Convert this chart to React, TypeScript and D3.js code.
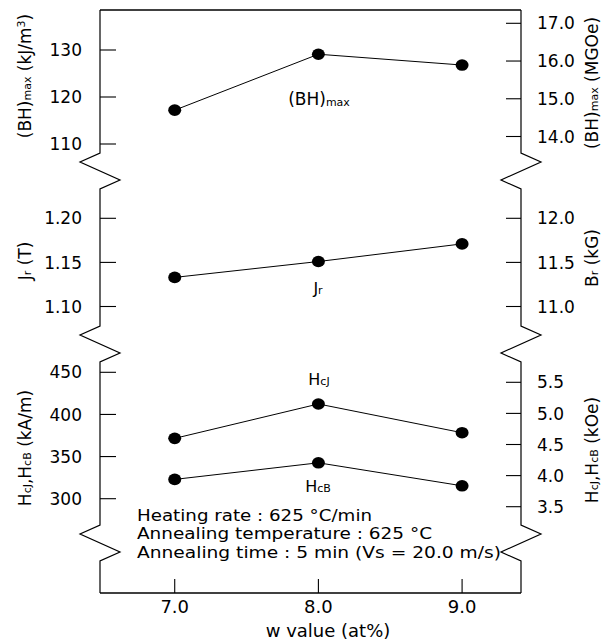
import React from "react";
import * as d3 from "d3";

// ---- data ----
const wValues = [7.0, 8.0, 9.0];
const bhMax = [117.2, 129.1, 126.8]; // kJ/m3
const jr = [1.133, 1.151, 1.171]; // T
const hcj = [371.6, 412.4, 378.3]; // kA/m
const hcb = [322.9, 342.6, 315.3]; // kA/m

const xTicks = [7.0, 8.0, 9.0];
const bhLeftTicks = [110, 120, 130];
const bhRightTicks = [14.0, 15.0, 16.0, 17.0];
const jrLeftTicks = [1.1, 1.15, 1.2];
const brRightTicks = [11.0, 11.5, 12.0];
const hLeftTicks = [300, 350, 400, 450];
const hRightTicks = [3.5, 4.0, 4.5, 5.0, 5.5];

const annotations = [
  "Heating rate : 625 °C/min",
  "Annealing temperature : 625 °C",
  "Annealing time : 5 min (Vs = 20.0 m/s)",
];
const annotationWidths = [235, 295, 364];

// ---- layout ----
const W = 603;
const H = 640;
const xL = 100;
const xR = 521;
const yTop = 10;
const yBot = 593;
const breaks = [153, 326, 525];
const FONT = "DejaVu Sans";

const x = d3.scaleLinear().domain([6.48, 9.41]).range([xL, xR]);

const yBH = d3.scaleLinear().domain([110, 130]).range([144, 50]);
const yBHr = d3.scaleLinear().domain([14, 17]).range([136.5, 23.3]);
const yJ = d3.scaleLinear().domain([1.1, 1.2]).range([306.5, 218.3]);
const yBr = d3.scaleLinear().domain([11, 12]).range([306.5, 218.3]);
const yH = d3.scaleLinear().domain([300, 450]).range([498.7, 372.3]);
const yHr = d3.scaleLinear().domain([3.5, 5.5]).range([506.7, 382.3]);

const leftAxes = [
  { scale: yBH, ticks: bhLeftTicks, fmt: d3.format("d") },
  { scale: yJ, ticks: jrLeftTicks, fmt: d3.format(".2f") },
  { scale: yH, ticks: hLeftTicks, fmt: d3.format("d") },
];
const rightAxes = [
  { scale: yBHr, ticks: bhRightTicks, fmt: d3.format(".1f") },
  { scale: yBr, ticks: brRightTicks, fmt: d3.format(".1f") },
  { scale: yHr, ticks: hRightTicks, fmt: d3.format(".1f") },
];

const series = [
  { values: bhMax, scale: yBH },
  { values: jr, scale: yJ },
  { values: hcj, scale: yH },
  { values: hcb, scale: yH },
];

function axisPath(ax: number, dir: number) {
  const p = d3.path();
  p.moveTo(ax, yTop);
  breaks.forEach((b) => {
    p.lineTo(ax, b);
    p.lineTo(ax + dir * 20, b + 9);
    p.lineTo(ax - dir * 20, b + 27);
    p.lineTo(ax, b + 36);
  });
  p.lineTo(ax, yBot);
  return p.toString();
}

export default function App() {
  const line = d3.line<number>().x((_, i) => x(wValues[i]));

  return (
    <svg
      width={W}
      height={H}
      viewBox={`0 0 ${W} ${H}`}
      style={{ position: "absolute", left: 0, top: 0, background: "#fff" }}
      fontFamily={FONT}
    >
      <rect x={0} y={0} width={W} height={H} fill="#fff" />
      {/* frame */}
      <line x1={xL} x2={xR} y1={yTop} y2={yTop} stroke="#000" strokeWidth={1.3} />
      <line x1={xL} x2={xR} y1={yBot} y2={yBot} stroke="#000" strokeWidth={1.3} />
      <path d={axisPath(xL, -1)} fill="none" stroke="#000" strokeWidth={1.2} />
      <path d={axisPath(xR, 1)} fill="none" stroke="#000" strokeWidth={1.2} />

      {/* left ticks */}
      {leftAxes.map((a, k) =>
        a.ticks.map((t) => (
          <g key={`l${k}-${t}`}>
            <line x1={xL} x2={xL + 16} y1={a.scale(t)} y2={a.scale(t)} stroke="#000" strokeWidth={1.1} />
            <text x={82} y={a.scale(t)} dy="0.36em" textAnchor="end" fontSize={17}>
              {a.fmt(t)}
            </text>
          </g>
        ))
      )}
      {/* right ticks */}
      {rightAxes.map((a, k) =>
        a.ticks.map((t) => (
          <g key={`r${k}-${t}`}>
            <line x1={xR - 15} x2={xR} y1={a.scale(t)} y2={a.scale(t)} stroke="#000" strokeWidth={1.1} />
            <text x={537} y={a.scale(t)} dy="0.36em" textAnchor="start" fontSize={17}>
              {a.fmt(t)}
            </text>
          </g>
        ))
      )}
      {/* x ticks */}
      {xTicks.map((t) => (
        <g key={`x${t}`}>
          <line x1={x(t)} x2={x(t)} y1={yBot} y2={yBot - 14} stroke="#000" strokeWidth={1.1} />
          <text x={x(t)} y={613} textAnchor="middle" fontSize={18}>
            {d3.format(".1f")(t)}
          </text>
        </g>
      ))}
      <text x={328} y={637} textAnchor="middle" fontSize={18}>
        w value (at%)
      </text>

      {/* series */}
      {series.map((s, k) => (
        <g key={`s${k}`}>
          <path
            d={line.y((v) => s.scale(v))(s.values) || ""}
            fill="none"
            stroke="#000"
            strokeWidth={1}
          />
          {s.values.map((v, i) => (
            <ellipse key={i} cx={x(wValues[i])} cy={s.scale(v)} rx={6.5} ry={5.8} fill="#000" />
          ))}
        </g>
      ))}

      {/* in-plot labels */}
      <text x={319} y={105} textAnchor="middle" fontSize={17}>
        (BH)<tspan fontSize={11} dy={1}>max</tspan>
      </text>
      <text x={318} y={294} textAnchor="middle" fontSize={16}>
        J<tspan fontSize={11}>r</tspan>
      </text>
      <text x={319} y={385} textAnchor="middle" fontSize={16}>
        H<tspan fontSize={11}>cJ</tspan>
      </text>
      <text x={318} y={492} textAnchor="middle" fontSize={16}>
        H<tspan fontSize={11}>cB</tspan>
      </text>

      {/* annotations */}
      {annotations.map((a, i) => (
        <text
          key={i}
          x={137}
          y={520.5 + i * 18.7}
          fontSize={16}
          textLength={annotationWidths[i]}
          lengthAdjust="spacingAndGlyphs"
        >
          {a}
        </text>
      ))}

      {/* left axis titles */}
      <text transform="translate(31,76) rotate(-90)" textAnchor="middle" fontSize={17}>
        (BH)<tspan fontSize={11}>max</tspan> (kJ/m<tspan fontSize={11} dy={-6}>3</tspan>
        <tspan dy={6}>)</tspan>
      </text>
      <text transform="translate(31,261) rotate(-90)" textAnchor="middle" fontSize={17}>
        J<tspan fontSize={11}>r</tspan> (T)
      </text>
      <text transform="translate(31,448) rotate(-90)" textAnchor="middle" fontSize={17}>
        H<tspan fontSize={11}>cJ</tspan>,H<tspan fontSize={11}>cB</tspan> (kA/m)
      </text>

      {/* right axis titles */}
      <text transform="translate(598,83) rotate(-90)" textAnchor="middle" fontSize={17}>
        (BH)<tspan fontSize={11}>max</tspan> (MGOe)
      </text>
      <text transform="translate(598,258) rotate(-90)" textAnchor="middle" fontSize={17}>
        B<tspan fontSize={11}>r</tspan> (kG)
      </text>
      <text transform="translate(598,450) rotate(-90)" textAnchor="middle" fontSize={17}>
        H<tspan fontSize={11}>cJ</tspan>,H<tspan fontSize={11}>cB</tspan> (kOe)
      </text>
    </svg>
  );
}
